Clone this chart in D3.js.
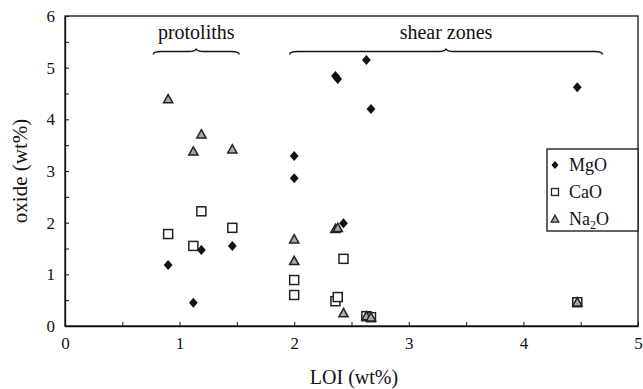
<!DOCTYPE html>
<html><head><meta charset="utf-8">
<script src="https://cdn.jsdelivr.net/npm/d3@7"></script>
<style>
html,body{margin:0;padding:0;background:#fff;}
text{font-family:"Liberation Serif","Times New Roman",serif;fill:#111;}
</style></head>
<body>
<svg id="chart" width="643" height="389"></svg>
<script>
// LOI (wt%) of each sample
const loi  = [0.90, 1.12, 1.19, 1.46, 2.00, 2.00, 2.36, 2.38, 2.43, 2.63, 2.67, 4.47];
const mgo  = [1.18, 0.45, 1.47, 1.55, 3.29, 2.86, 4.84, 4.78, 1.99, 5.15, 4.20, 4.62];
const cao  = [1.78, 1.55, 2.22, 1.90, 0.89, 0.60, 0.48, 0.56, 1.30, 0.19, 0.17, 0.46];
const na2o = [4.39, 3.38, 3.71, 3.42, 1.68, 1.26, 1.88, 1.90, 0.25, 0.19, 0.17, 0.46];
const xTicks = [0, 0.5, 1, 1.5, 2, 2.5, 3, 3.5, 4, 4.5, 5];
const yTicks = [0, 0.5, 1, 1.5, 2, 2.5, 3, 3.5, 4, 4.5, 5, 5.5, 6];
const groups = [
  {label: "protoliths", from: 0.77, to: 1.52},
  {label: "shear zones", from: 1.96, to: 4.69}
];

const svg = d3.select("#chart");
const L = 65, R = 638, T = 16, B = 326;
const x = d3.scaleLinear().domain([0, 5]).range([L, R]);
const y = d3.scaleLinear().domain([0, 6]).range([B, T]);

const fmt = d => Number.isInteger(d) ? String(d) : "";

// axes
const gx = svg.append("g").attr("transform", `translate(0,${B})`)
  .call(d3.axisBottom(x).tickValues(xTicks).tickFormat(fmt).tickSizeInner(-4).tickSizeOuter(0).tickPadding(11));
const gy = svg.append("g").attr("transform", `translate(${L},0)`)
  .call(d3.axisLeft(y).tickValues(yTicks).tickFormat(fmt).tickSizeInner(-4).tickSizeOuter(0).tickPadding(10));
[gx, gy].forEach(g => {
  g.selectAll("text").style("font-family", '"Liberation Serif",serif').style("font-size", "17px").attr("fill", "#111");
  g.selectAll("line").attr("stroke", "#111");
  g.select(".domain").attr("stroke", "#111").attr("stroke-width", 1.3);
});
// frame
svg.append("rect").attr("x", L).attr("y", T).attr("width", R - L).attr("height", B - T)
  .attr("fill", "none").attr("stroke", "#111").attr("stroke-width", 1.3);

// axis titles
svg.append("text").attr("x", 354).attr("y", 384).attr("text-anchor", "middle")
  .style("font-size", "20px").text("LOI (wt%)");
svg.append("text").attr("transform", `translate(27,${(T + B) / 2 + 0}) rotate(-90)`)
  .attr("text-anchor", "middle").style("font-size", "21px").text("oxide (wt%)");

// braces
function brace(x1, x2, yb) {
  const m = (x1 + x2) / 2, h = 3, q = 8;
  return `M${x1},${yb + h} Q${x1},${yb} ${x1 + q},${yb} L${m - q},${yb} Q${m},${yb} ${m},${yb - h}` +
         ` Q${m},${yb} ${m + q},${yb} L${x2 - q},${yb} Q${x2},${yb} ${x2},${yb + h}`;
}
groups.forEach(g => {
  svg.append("path").attr("d", brace(x(g.from), x(g.to), 51.5))
    .attr("fill", "none").attr("stroke", "#111").attr("stroke-width", 1.4);
  svg.append("text").attr("x", (x(g.from) + x(g.to)) / 2).attr("y", 39)
    .attr("text-anchor", "middle").style("font-size", "20px").text(g.label);
});

// marker shapes
const diamondPath = s => `M0,${-s} L${s * 0.88},0 L0,${s} L${-s * 0.88},0 Z`;
const trianglePath = s => `M0,${-s} L${s},${s * 0.8} L${-s},${s * 0.8} Z`;

const plot = svg.append("g");
plot.selectAll(".mgo").data(loi.map((v, i) => [v, mgo[i]])).join("path")
  .attr("d", diamondPath(5)).attr("fill", "#111")
  .attr("transform", d => `translate(${x(d[0])},${y(d[1])})`);
plot.selectAll(".cao").data(loi.map((v, i) => [v, cao[i]])).join("rect")
  .attr("x", d => x(d[0]) - 4.5).attr("y", d => y(d[1]) - 4.5)
  .attr("width", 9).attr("height", 9)
  .attr("fill", "#fff").attr("stroke", "#222").attr("stroke-width", 1.5);
plot.selectAll(".na").data(loi.map((v, i) => [v, na2o[i]])).join("path")
  .attr("d", trianglePath(4.6)).attr("fill", "#a8a8a8").attr("stroke", "#222").attr("stroke-width", 1.5)
  .attr("stroke-linejoin", "miter")
  .attr("transform", d => `translate(${x(d[0])},${y(d[1])})`);

// legend
const lg = svg.append("g");
lg.append("rect").attr("x", 547).attr("y", 149).attr("width", R - 547).attr("height", 82)
  .attr("fill", "#fff").attr("stroke", "#111").attr("stroke-width", 1.3);
const ly = [165, 192, 219];
lg.append("path").attr("d", diamondPath(4)).attr("fill", "#111").attr("transform", `translate(555,${ly[0]})`);
lg.append("rect").attr("x", 551.5).attr("y", ly[1] - 3.5).attr("width", 7).attr("height", 7)
  .attr("fill", "#fff").attr("stroke", "#222").attr("stroke-width", 1.3);
lg.append("path").attr("d", trianglePath(3.8)).attr("fill", "#a8a8a8").attr("stroke", "#222").attr("stroke-width", 1.3)
  .attr("transform", `translate(555,${ly[2]})`);
lg.append("text").attr("x", 569).attr("y", ly[0] + 6).style("font-size", "18px").text("MgO");
lg.append("text").attr("x", 569).attr("y", ly[1] + 6).style("font-size", "18px").text("CaO");
const nt = lg.append("text").attr("x", 569).attr("y", ly[2] + 6).style("font-size", "18px");
nt.append("tspan").text("Na");
nt.append("tspan").attr("dy", 4).style("font-size", "12px").text("2");
nt.append("tspan").attr("dy", -4).text("O");
</script>
</body></html>
